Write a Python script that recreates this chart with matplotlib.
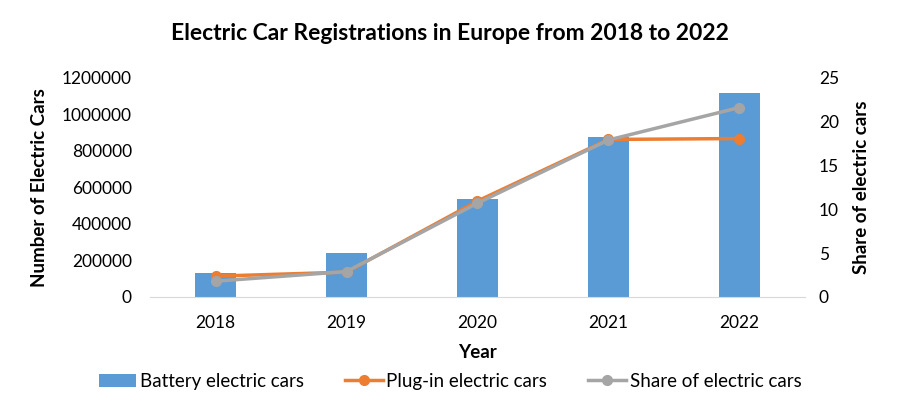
import numpy as np
import matplotlib.pyplot as plt

plt.rcParams['font.family'] = ['Lato', 'DejaVu Sans']

years = ['2018', '2019', '2020', '2021', '2022']
battery = [132000, 241000, 536000, 873000, 1118000]
plugin = [114000, 136000, 525000, 862000, 867000]
share = [1.8, 2.9, 10.7, 17.9, 21.6]
left_ticks = [0, 200000, 400000, 600000, 800000, 1000000, 1200000]

fig = plt.figure(figsize=(9, 4.13), dpi=100)
ax = fig.add_axes([0.1667, 0.2809, 0.7277, 0.531])
ax2 = ax.twinx()

x = np.arange(len(years))
b = ax.bar(x, battery, width=0.31, color='#5b9bd5', label='Battery electric cars', zorder=1)
l1, = ax.plot(x, plugin, color='#ed7d31', lw=2.5, marker='o', ms=7,
              label='Plug-in electric cars', zorder=3)
l2, = ax2.plot(x, share, color='#a5a5a5', lw=2.5, marker='o', ms=7,
               label='Share of electric cars', zorder=3)

ax.set_xlim(-0.5, 4.5)
ax.set_ylim(0, 1200000)
ax.set_yticks(left_ticks)
ax.set_yticklabels([str(v) for v in left_ticks])
ax2.set_ylim(0, 25)
ax2.set_yticks(np.arange(0, 26, 5))
ax.set_xticks(x)
ax.set_xticklabels(years)

for a in (ax, ax2):
    for s in a.spines.values():
        s.set_visible(False)
    a.tick_params(length=0, labelsize=12.5, colors='#000000')
ax2.spines['bottom'].set_visible(True)
ax2.spines['bottom'].set_color('#d9d9d9')
ax.tick_params(axis='y', pad=13)
ax.tick_params(axis='x', pad=13)
ax2.tick_params(axis='y', pad=10)

ax.set_ylabel('Number of Electric Cars', fontsize=13.5, fontweight='bold', labelpad=10)
ax2.set_ylabel('Share of electric cars', fontsize=13.5, fontweight='bold', labelpad=10)
ax.set_xlabel('Year', fontsize=13.5, fontweight='bold', labelpad=9)

fig.suptitle('Electric Car Registrations in Europe from 2018 to 2022',
             fontsize=16.5, fontweight='bold', y=0.945)

fig.legend(handles=[b, l1, l2], loc='center', bbox_to_anchor=(0.5, 0.077),
           ncol=3, frameon=False, fontsize=13.5, handlelength=2.0,
           handletextpad=0.2, columnspacing=2.2)

fig.savefig('out.png', dpi=100)
